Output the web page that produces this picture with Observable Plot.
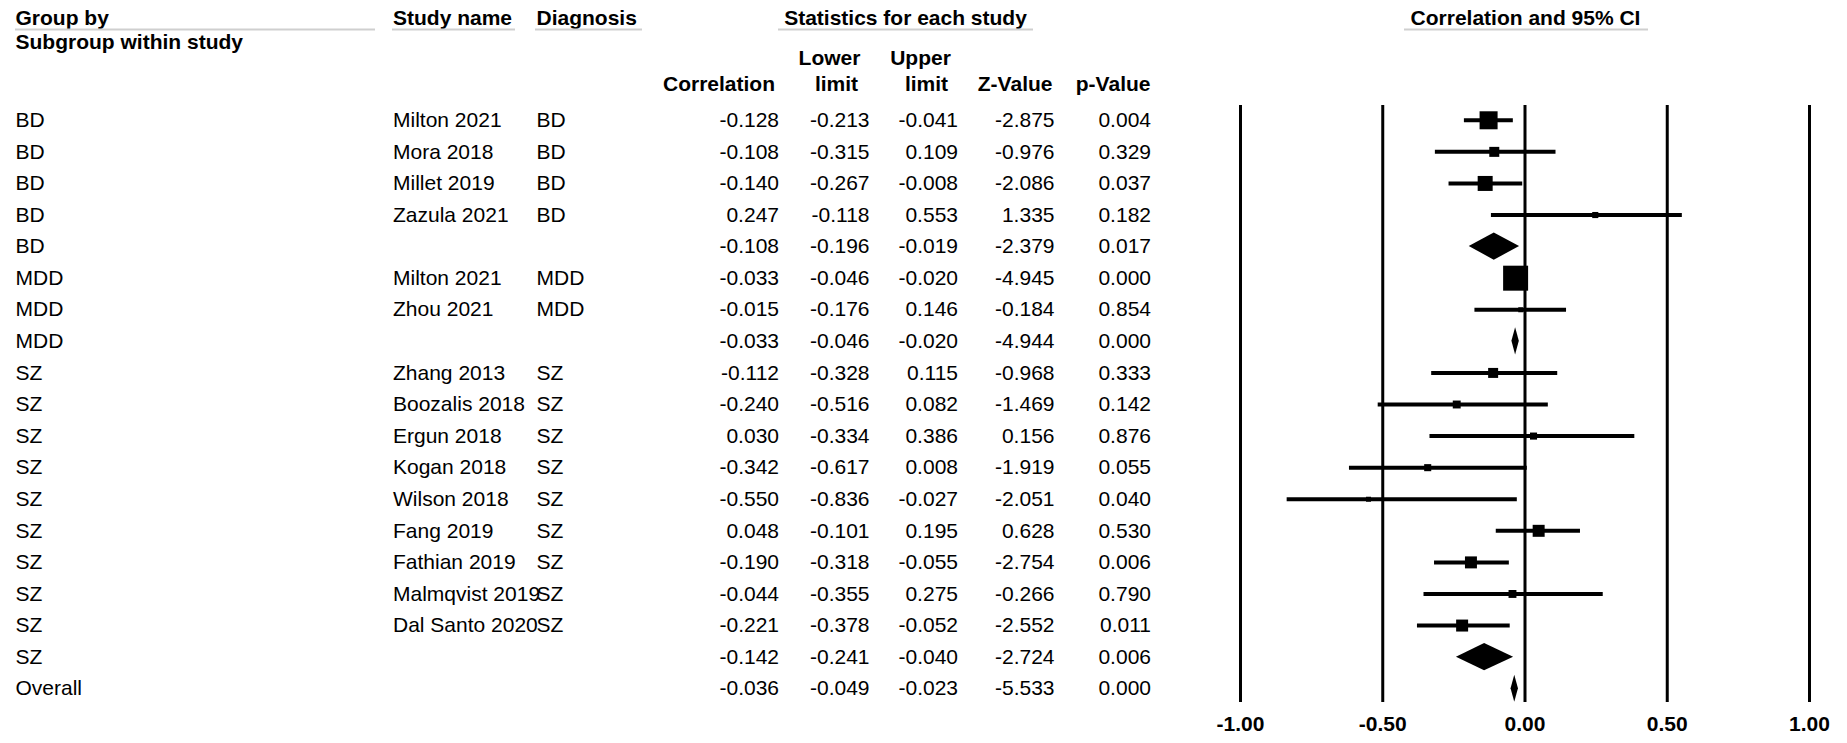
<!DOCTYPE html>
<html>
<head>
<meta charset="utf-8">
<script src="https://cdn.jsdelivr.net/npm/d3@7"></script>
<script src="https://cdn.jsdelivr.net/npm/@observablehq/plot@0.6"></script>
<style>
  html, body { margin: 0; padding: 0; background: #fff; }
  #chart svg { display: block; }
</style>
</head>
<body>
<div id="chart"></div>
<script>
// ---------- data ----------
const groupBy = ["BD","BD","BD","BD","BD","MDD","MDD","MDD","SZ","SZ","SZ","SZ","SZ","SZ","SZ","SZ","SZ","SZ","Overall"];
const studyName = ["Milton 2021","Mora 2018","Millet 2019","Zazula 2021","","Milton 2021","Zhou 2021","","Zhang 2013","Boozalis 2018","Ergun 2018","Kogan 2018","Wilson 2018","Fang 2019","Fathian 2019","Malmqvist 2019","Dal Santo 2020","",""];
const diagnosis = ["BD","BD","BD","BD","","MDD","MDD","","SZ","SZ","SZ","SZ","SZ","SZ","SZ","SZ","SZ","",""];
const correlation = [-0.128,-0.108,-0.140,0.247,-0.108,-0.033,-0.015,-0.033,-0.112,-0.240,0.030,-0.342,-0.550,0.048,-0.190,-0.044,-0.221,-0.142,-0.036];
const lowerLimit  = [-0.213,-0.315,-0.267,-0.118,-0.196,-0.046,-0.176,-0.046,-0.328,-0.516,-0.334,-0.617,-0.836,-0.101,-0.318,-0.355,-0.378,-0.241,-0.049];
const upperLimit  = [-0.041,0.109,-0.008,0.553,-0.019,-0.020,0.146,-0.020,0.115,0.082,0.386,0.008,-0.027,0.195,-0.055,0.275,-0.052,-0.040,-0.023];
const zValue      = [-2.875,-0.976,-2.086,1.335,-2.379,-4.945,-0.184,-4.944,-0.968,-1.469,0.156,-1.919,-2.051,0.628,-2.754,-0.266,-2.552,-2.724,-5.533];
const pValue      = [0.004,0.329,0.037,0.182,0.017,0.000,0.854,0.000,0.333,0.142,0.876,0.055,0.040,0.530,0.006,0.790,0.011,0.006,0.000];
// relative box weight; null = summary row (diamond)
const boxWeight   = [52,16,36,6,null,100,4,null,16,10,8,8,4,23,23,10,23,null,null];
const xTicks = [-1, -0.5, 0, 0.5, 1];

// header texts
const hdrGroup = "Group by", hdrSub = "Subgroup within study", hdrStudy = "Study name", hdrDiag = "Diagnosis";
const hdrStats = "Statistics for each study", hdrCI = "Correlation and 95% CI";
const hdrCorr = "Correlation", hdrLower = ["Lower","limit"], hdrUpper = ["Upper","limit"], hdrZ = "Z-Value", hdrP = "p-Value";

// ---------- derived tables ----------
const rows = groupBy.map((g, i) => ({
  row: i, group: g, study: studyName[i], diag: diagnosis[i],
  corr: correlation[i], lower: lowerLimit[i], upper: upperLimit[i],
  z: zValue[i], p: pValue[i], weight: boxWeight[i]
}));
const studies = rows.filter(d => d.weight != null);
const summaries = rows.filter(d => d.weight == null);
const H = 0.43; // diamond half height in row units
const diamondPts = summaries.flatMap(d => [
  {row: d.row, y: d.row - H, x1: d.corr, x2: d.corr},
  {row: d.row, y: d.row,     x1: d.lower, x2: d.upper},
  {row: d.row, y: d.row + H, x1: d.corr, x2: d.corr}
]);

const FONT = "'Liberation Sans', Arial, Helvetica, sans-serif";
const f3 = v => v.toFixed(3);

// table column layout
const columns = [
  {text: "group", dx: 15, anchor: "start"},
  {text: "study", dx: 392.5, anchor: "start"},
  {text: "diag",  dx: 536, anchor: "start"},
  {text: d => f3(d.corr),  dx: 778.5, anchor: "end"},
  {text: d => f3(d.lower), dx: 869, anchor: "end"},
  {text: d => f3(d.upper), dx: 957.5, anchor: "end"},
  {text: d => f3(d.z),     dx: 1054, anchor: "end"},
  {text: d => f3(d.p),     dx: 1150.5, anchor: "end"}
];

// header layout (page px: x, centre y)
const headers = [
  {t: hdrGroup, dx: 15, dy: 18, anchor: "start"},
  {t: hdrSub, dx: 15, dy: 42, anchor: "start"},
  {t: hdrStudy, dx: 392.5, dy: 18, anchor: "start"},
  {t: hdrDiag, dx: 536, dy: 18, anchor: "start"},
  {t: hdrStats, dx: 905, dy: 18, anchor: "middle"},
  {t: hdrCI, dx: 1525, dy: 18, anchor: "middle"},
  {t: hdrLower[0], dx: 829, dy: 58, anchor: "middle"},
  {t: hdrLower[1], dx: 836, dy: 83.3, anchor: "middle"},
  {t: hdrUpper[0], dx: 920, dy: 58, anchor: "middle"},
  {t: hdrUpper[1], dx: 926, dy: 83.3, anchor: "middle"},
  {t: hdrCorr, dx: 774.5, dy: 83.3, anchor: "end"},
  {t: hdrZ, dx: 1052, dy: 83.3, anchor: "end"},
  {t: hdrP, dx: 1150, dy: 83.3, anchor: "end"}
];
const underlineSpans = [[15,375],[392,515],[535,642],[778,1033],[1404,1648]];
const underlineY = 29.5;

function underlines() {
  const ns = "http://www.w3.org/2000/svg";
  const g = document.createElementNS(ns, "g");
  for (const [a, b] of underlineSpans) {
    const l = document.createElementNS(ns, "line");
    l.setAttribute("x1", a); l.setAttribute("x2", b);
    l.setAttribute("y1", underlineY); l.setAttribute("y2", underlineY);
    l.setAttribute("stroke", "#cfcfcf"); l.setAttribute("stroke-width", 2);
    g.appendChild(l);
  }
  return g;
}

const chart = Plot.plot({
  width: 1847,
  height: 743,
  marginTop: 0,
  marginBottom: 39,
  marginLeft: 0,
  marginRight: 0,
  style: {fontFamily: FONT, fontSize: "21px", color: "#000", background: "#fff"},
  x: {domain: [-1, 1], range: [1240, 1809]},
  y: {domain: [-0.5, 18.5], range: [104, 704], axis: null},
  r: {domain: [0, 100], range: [0, 14.1]},
  marks: [
    Plot.ruleX(xTicks, {x: d => d, y1: -0.5, y2: 18.5, stroke: "#000", strokeWidth: 3, insetTop: 1, insetBottom: 2}),
    Plot.ruleY(studies, {y: "row", x1: "lower", x2: "upper", stroke: "#000", strokeWidth: 4}),
    Plot.dot(studies, {x: "corr", y: "row", r: "weight", symbol: "square", fill: "#000", stroke: null}),
    Plot.areaX(diamondPts, {y: "y", x1: "x1", x2: "x2", z: "row", fill: "#000", curve: "linear"}),
    Plot.axisX(xTicks, {tickFormat: d => d.toFixed(2), tickSize: 0, tickPadding: 12, fontSize: 21, fontWeight: "bold", label: null, fill: "#000"}),
    ...columns.map(c => Plot.text(rows, {y: "row", text: c.text, frameAnchor: "left", textAnchor: c.anchor, lineAnchor: "middle", dx: c.dx, fill: "#000"})),
    ...headers.map(h => Plot.text([h.t], {text: d => d, frameAnchor: "top-left", textAnchor: h.anchor, lineAnchor: "middle", dx: h.dx, dy: h.dy, fontWeight: "bold", fill: "#000"})),
    underlines
  ]
});
document.getElementById("chart").appendChild(chart);
</script>
</body>
</html>
